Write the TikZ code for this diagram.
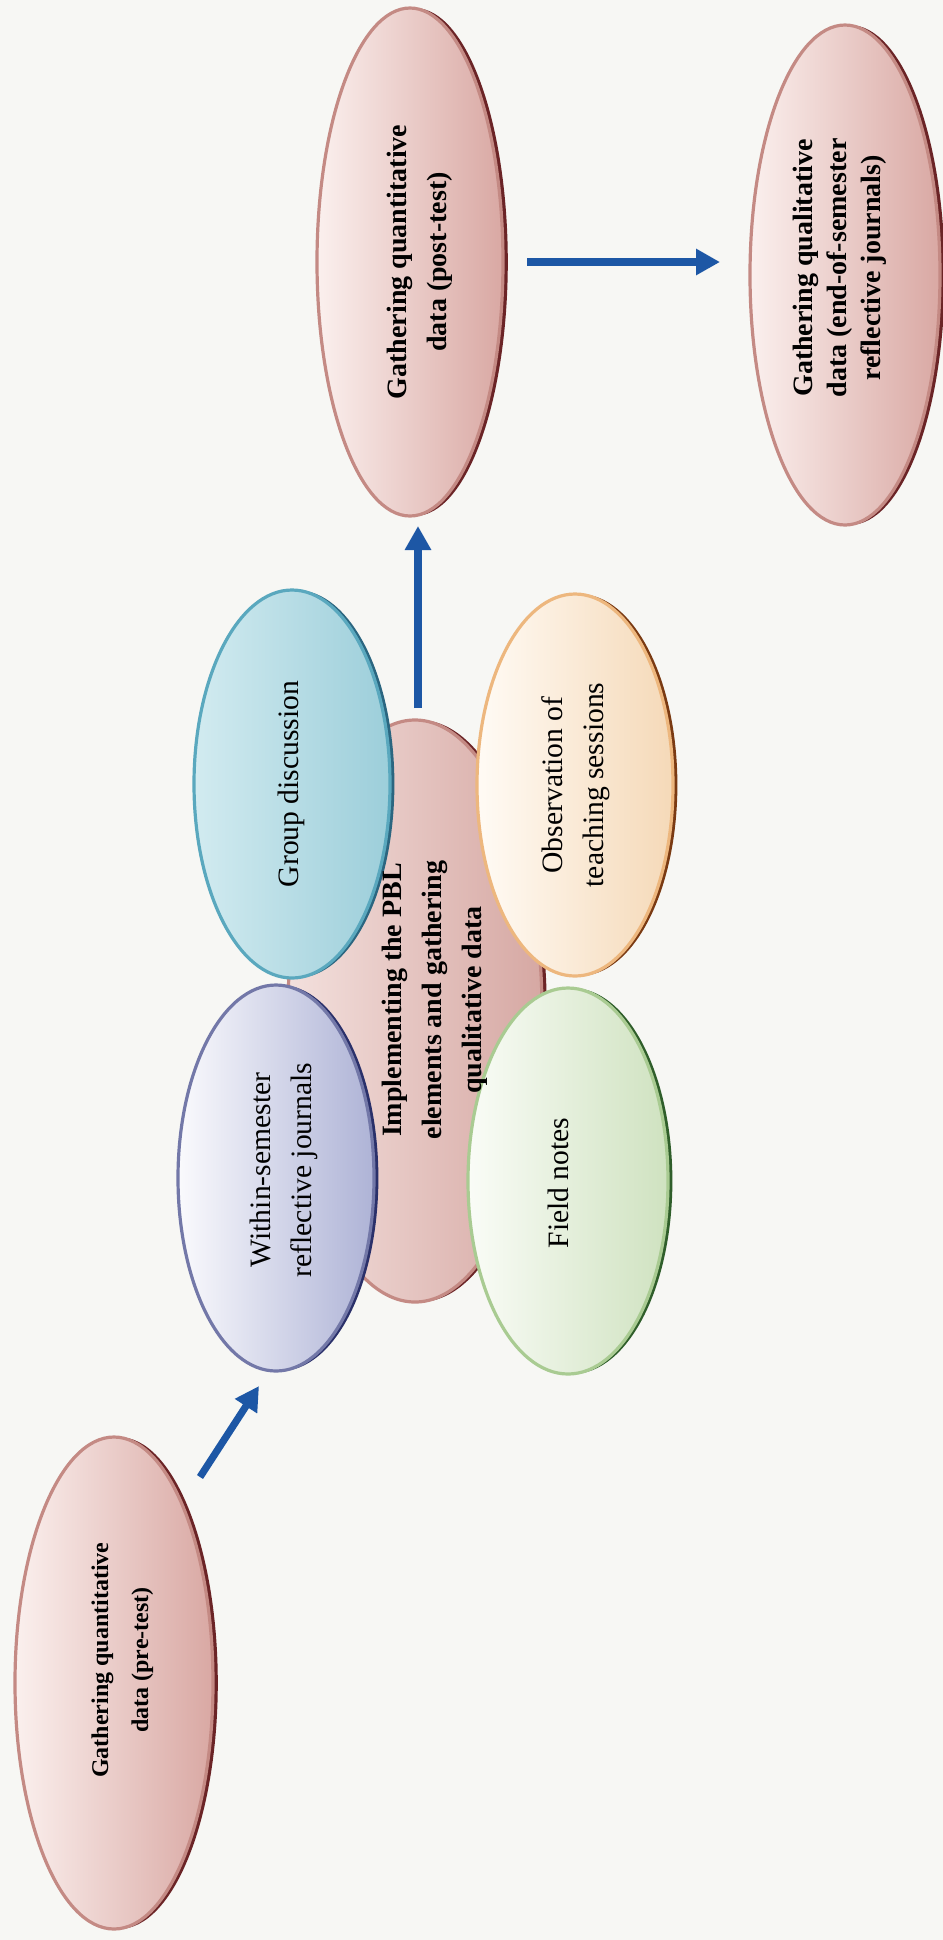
\documentclass[tikz,border=0pt]{standalone}
\usepackage{fontspec}
\setmainfont{Liberation Serif}
\usetikzlibrary{shapes.geometric,arrows.meta}
\definecolor{bgcol}{HTML}{F7F7F4}
\definecolor{pinkL}{HTML}{FBF0EE}
\definecolor{pinkR}{HTML}{D9A8A3}
\definecolor{pinkedge}{HTML}{C48A84}
\definecolor{pinkdark}{HTML}{6B2426}
\definecolor{implL}{HTML}{F3E0DD}
\definecolor{implR}{HTML}{D6A8A3}
\definecolor{withL}{HTML}{FAFAFD}
\definecolor{withR}{HTML}{AEB3D6}
\definecolor{withedge}{HTML}{7378A8}
\definecolor{withdark}{HTML}{2A306A}
\definecolor{grpL}{HTML}{D2EBF0}
\definecolor{grpR}{HTML}{9CCEDA}
\definecolor{grpedge}{HTML}{5AA8BE}
\definecolor{grpdark}{HTML}{2B6680}
\definecolor{obsL}{HTML}{FFFBF5}
\definecolor{obsR}{HTML}{F5D9B8}
\definecolor{obsedge}{HTML}{EDB77E}
\definecolor{obsdark}{HTML}{7A3A12}
\definecolor{fldL}{HTML}{FAFCF7}
\definecolor{fldR}{HTML}{CFE2C0}
\definecolor{fldedge}{HTML}{A9CB92}
\definecolor{flddark}{HTML}{2F5E2A}
\definecolor{arrowblue}{HTML}{1D57A5}
\newcommand{\vtxt}[1]{\rotatebox{90}{\begin{tabular}{@{}c@{}}#1\end{tabular}}}
\begin{document}
\begin{tikzpicture}[x=0.5pt,y=-0.5pt,
  blob/.style={ellipse, inner sep=0pt, line width=1.6pt},
  pinkblob/.style={blob, draw=pinkedge, left color=pinkL, right color=pinkR,
    preaction={fill=pinkdark, transform canvas={xshift=2.4pt}}},
  implblob/.style={blob, draw=pinkedge, left color=implL, right color=implR,
    preaction={fill=pinkdark, transform canvas={xshift=2.4pt}}},
  withblob/.style={blob, draw=withedge, left color=withL, right color=withR,
    preaction={fill=withdark, transform canvas={xshift=2.2pt}}},
  grpblob/.style={blob, draw=grpedge, left color=grpL, middle color=white, right color=grpR,
    preaction={fill=grpdark, transform canvas={xshift=2.2pt}}},
  obsblob/.style={blob, draw=obsedge, left color=obsL, right color=obsR,
    preaction={fill=obsdark, transform canvas={xshift=2.2pt}}},
  fldblob/.style={blob, draw=fldedge, left color=fldL, right color=fldR,
    preaction={fill=flddark, transform canvas={xshift=2.2pt}}},
  btext/.style={inner sep=0pt, font=\fontsize{14}{20}\selectfont\bfseries},
  rtext/.style={inner sep=0pt, font=\fontsize{14.8}{20.5}\selectfont},
  arr/.style={draw=arrowblue, line width=3.6pt, -{Triangle[length=12pt,width=12.5pt]}}
]
\fill[bgcol] (0,0) rectangle (943,1940);
\useasboundingbox (0,0) rectangle (943,1940);

% back ellipses
\node[pinkblob, minimum width=99pt, minimum height=246pt] (pre) at (114,1683) {};
\node[pinkblob, minimum width=93pt, minimum height=254pt] (post) at (410,262) {};
\node[pinkblob, minimum width=95pt, minimum height=250pt] (endsem) at (845,275) {};
\node[implblob, minimum width=127pt, minimum height=291pt] (impl) at (415,1011) {};
% front ellipses
\node[grpblob, minimum width=98pt, minimum height=194pt] (grp) at (292,784) {};
\node[obsblob, minimum width=98pt, minimum height=191pt] (obs) at (575,785) {};
\node[withblob, minimum width=98pt, minimum height=193pt] (within) at (276,1178) {};
\node[fldblob, minimum width=100pt, minimum height=193pt] (fld) at (568,1181) {};

% texts
\node[btext, font=\fontsize{12}{20}\selectfont\bfseries] (pre-t) at (120,1660) {\vtxt{Gathering quantitative\\data (pre-test)}};
\node[btext] (post-t) at (418,262) {\vtxt{Gathering quantitative\\data (post-test)}};
\node[btext, font=\fontsize{14}{17}\selectfont\bfseries] (endsem-t) at (840,268) {\vtxt{Gathering qualitative\\data (end-of-semester\\reflective journals)}};
\node[btext] (impl-t) at (433,1000) {\vtxt{Implementing the PBL\\elements and gathering\\qualitative data}};
\node[rtext] (grp-t) at (290,784) {\vtxt{Group discussion}};
\node[rtext] (obs-t) at (575,785) {\vtxt{Observation of\\teaching sessions}};
\node[rtext] (within-t) at (283,1170) {\vtxt{Within-semester\\reflective journals}};
\node[rtext] (fld-t) at (560,1183) {\vtxt{Field notes}};

% arrows
\coordinate (a1s) at (200,1477);
\coordinate (a1e) at (259,1386);
\coordinate (a2s) at (418,708);
\coordinate (a2e) at (418,526);
\coordinate (a3s) at (527,262);
\coordinate (a3e) at (720,262);
\draw[arr] (a1s) -- (a1e);
\draw[arr] (a2s) -- (a2e);
\draw[arr] (a3s) -- (a3e);
\end{tikzpicture}
\end{document}
